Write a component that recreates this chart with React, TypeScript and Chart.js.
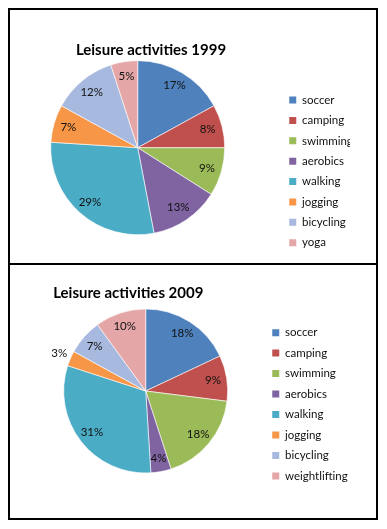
import React, { useEffect, useRef } from "react";
import { Chart, registerables } from "chart.js";

Chart.register(...registerables);

// ---------- data ----------
const categories1999 = ["soccer", "camping", "swimming", "aerobics", "walking", "jogging", "bicycling", "yoga"];
const values1999 = [17, 8, 9, 13, 29, 7, 12, 5];

const categories2009 = ["soccer", "camping", "swimming", "aerobics", "walking", "jogging", "bicycling", "weightlifting"];
const values2009 = [18, 9, 18, 4, 31, 3, 7, 10];

const title1999 = "Leisure activities 1999";
const title2009 = "Leisure activities 2009";

const sliceColors = ["#4F81BD", "#C0504D", "#9BBB59", "#8064A2", "#4BACC6", "#F79646", "#A7B9DE", "#E4A6A6"];

// ---------- geometry ----------
const W = 366;
const H = 253;
const SHIFT = 20; // canvas extends this far left (under the border) so padding stays positive
const CW = W + SHIFT;
const LEGEND_FS = 11.5;
const LEGEND_FONT = `${LEGEND_FS}px Lato`;
const BOX = 7;

type Geo = {
  cx: number; cy: number; r: number; textX: number; lastRowY: number; row: number;
  titleX: number; titleY: number; clipX?: number;
};

const geo1999: Geo = { cx: 127.7, cy: 137.7, r: 87, textX: 292, lastRowY: 232.7, row: 20.38, titleX: 141, titleY: 40, clipX: 340 };
const geo2009: Geo = { cx: 135.7, cy: 126, r: 82, textX: 275, lastRowY: 211, row: 20.48, titleX: 118.3, titleY: 28 };

function maxTextWidth(labels: string[]) {
  const c = document.createElement("canvas").getContext("2d")!;
  c.font = LEGEND_FONT;
  return Math.max(...labels.map((s) => c.measureText(s).width));
}

function layoutFor(g: Geo, labels: string[]) {
  const p = g.row - LEGEND_FS;
  const boxLeft = g.textX + SHIFT - BOX - LEGEND_FS / 2;
  const caRight = boxLeft - p;
  const natural = p + BOX + LEGEND_FS / 2 + maxTextWidth(labels) + 10;
  const legendW = g.clipX ? Math.min(natural, g.clipX + SHIFT - caRight) : natural;
  const left = 2 * (g.cx + SHIFT) - caRight;
  const right = CW - caRight - legendW;
  const legendBottom = g.lastRowY + LEGEND_FS / 2 + p;
  const bottom = H - legendBottom;
  const top = 2 * g.cy - legendBottom;
  return { padding: { left, right, top, bottom }, labelPadding: p, legendW };
}

const fixedTitle = {
  id: "fixedTitle",
  afterDraw(chart: any, _args: any, opts: any) {
    const ctx = chart.ctx;
    ctx.save();
    ctx.font = "bold 15px Lato";
    ctx.fillStyle = "#000";
    ctx.textAlign = "center";
    ctx.textBaseline = "middle";
    ctx.fillText(opts.text, opts.x + SHIFT, opts.y);
    ctx.restore();
  },
};

const pctLabels = {
  id: "pctLabels",
  afterDatasetsDraw(chart: any) {
    const ctx = chart.ctx;
    const meta = chart.getDatasetMeta(0);
    const data = chart.data.datasets[0].data as number[];
    ctx.save();
    ctx.font = "11.5px Lato";
    ctx.fillStyle = "#111";
    ctx.textAlign = "center";
    ctx.textBaseline = "middle";
    meta.data.forEach((arc: any, i: number) => {
      const { x, y, startAngle, endAngle, outerRadius } = arc.getProps(["x", "y", "startAngle", "endAngle", "outerRadius"], true);
      const v = data[i];
      const mid = (startAngle + endAngle) / 2;
      const f = v <= 3 ? 1.15 : 0.83;
      ctx.fillText(v + "%", x + Math.cos(mid) * outerRadius * f, y + Math.sin(mid) * outerRadius * f);
    });
    ctx.restore();
  },
};

function PieChart({ labels, values, title, g }: { labels: string[]; values: number[]; title: string; g: Geo }) {
  const ref = useRef<HTMLCanvasElement>(null);
  useEffect(() => {
    if (!ref.current) return;
    const lay = layoutFor(g, labels);
    const chart = new Chart(ref.current, {
      type: "pie",
      data: {
        labels,
        datasets: [
          {
            data: values,
            backgroundColor: sliceColors,
            borderColor: "rgba(255,255,255,0.6)",
            borderWidth: 1,
            radius: g.r,
          } as any,
        ],
      },
      options: {
        responsive: false,
        animation: false,
        events: [],
        layout: { padding: lay.padding },
        plugins: {
          title: { display: false },
          tooltip: { enabled: false },
          legend: {
            display: true,
            position: "right",
            align: "end",
            maxWidth: lay.legendW,
            labels: {
              boxWidth: BOX,
              boxHeight: BOX,
              padding: lay.labelPadding,
              color: "#111",
              font: { family: "Lato", size: LEGEND_FS },
              generateLabels: (ch: any) =>
                (Chart as any).overrides.pie.plugins.legend.labels
                  .generateLabels(ch)
                  .map((l: any) => ({ ...l, lineWidth: 0 })),
            },
          },
          fixedTitle: { text: title, x: g.titleX, y: g.titleY },
        } as any,
      },
      plugins: [fixedTitle, pctLabels],
    });
    return () => chart.destroy();
  }, []);
  return (
    <canvas
      ref={ref}
      width={CW}
      height={H}
      style={{ display: "block", width: CW, height: H, marginLeft: -SHIFT }}
    />
  );
}

export default function App() {
  return (
    <div style={{ border: "2px solid #000", width: W, background: "#fff" }}>
      <div style={{ borderBottom: "2px solid #000", height: H }}>
        <PieChart labels={categories1999} values={values1999} title={title1999} g={geo1999} />
      </div>
      <div style={{ height: H }}>
        <PieChart labels={categories2009} values={values2009} title={title2009} g={geo2009} />
      </div>
    </div>
  );
}
